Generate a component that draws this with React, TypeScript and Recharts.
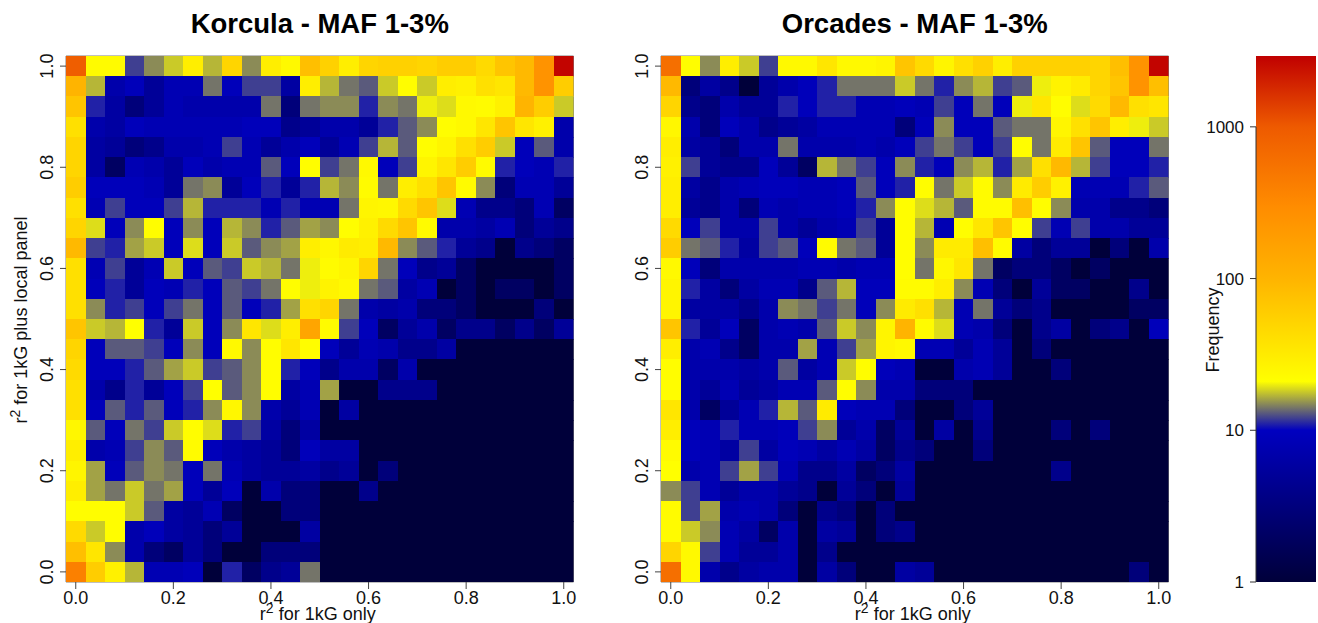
import React from "react";
import { ScatterChart, Scatter, XAxis, YAxis, ReferenceArea, ReferenceLine } from "recharts";

const FONT = "'Liberation Sans', Arial, Helvetica, sans-serif";
const TICKS = [0, 0.2, 0.4, 0.6, 0.8, 1];
const BIN = 0.04;
const FREQ_TICKS = [1, 10, 100, 1000];
const FREQ_MAX = 2930;
const COLOR_STOPS: [number, string][] = [
  [1, "#00003a"],
  [10, "#0000c0"],
  [21, "#ffff00"],
  [100, "#ffb400"],
  [300, "#ff8c00"],
  [1000, "#ee5a00"],
  [2930, "#c00000"],
];

const KORCULA: number[][] = [
  [900, 23, 23, 12, 15, 18, 30, 17, 50, 15, 30, 24, 80, 55, 30, 50, 55, 55, 50, 60, 60, 45, 70, 90, 250, 2800],
  [100, 17, 7, 9, 5, 8, 8, 14, 9, 12, 12, 6, 30, 17, 14, 13, 18, 22, 18, 30, 28, 40, 35, 90, 250, 60],
  [70, 11, 6, 3, 5, 8, 7, 7, 7, 7, 14, 3, 14, 15, 15, 11, 15, 14, 20, 19, 24, 23, 28, 100, 60, 18],
  [40, 7, 6, 9, 8, 8, 8, 8, 8, 9, 9, 4, 5, 7, 7, 5, 11, 13, 15, 22, 24, 35, 70, 35, 28, 7],
  [50, 6, 5, 3, 4, 7, 7, 8, 12, 8, 5, 7, 9, 5, 8, 12, 17, 13, 22, 26, 40, 60, 18, 9, 13, 7],
  [50, 6, 2, 8, 7, 5, 9, 7, 8, 8, 13, 9, 22, 12, 14, 24, 9, 12, 26, 35, 60, 23, 11, 9, 8, 11],
  [60, 9, 9, 9, 8, 5, 14, 15, 5, 9, 11, 5, 11, 17, 15, 23, 14, 30, 40, 70, 23, 15, 3, 8, 8, 5],
  [40, 8, 12, 9, 9, 12, 17, 11, 11, 11, 8, 11, 8, 8, 14, 26, 25, 45, 70, 19, 8, 4, 4, 3, 8, 2],
  [50, 19, 9, 15, 22, 9, 15, 9, 17, 15, 11, 13, 16, 15, 22, 28, 45, 70, 23, 7, 7, 6, 8, 3, 5, 4],
  [90, 12, 11, 16, 18, 9, 19, 9, 18, 13, 15, 16, 30, 25, 32, 30, 90, 15, 13, 11, 5, 4, 1, 4, 3, 2],
  [40, 8, 12, 5, 8, 18, 9, 13, 12, 18, 17, 14, 20, 23, 26, 50, 14, 9, 4, 5, 2, 1, 1, 1, 1, 2],
  [40, 9, 11, 5, 9, 8, 11, 9, 13, 12, 14, 22, 20, 27, 24, 14, 13, 6, 8, 1, 2, 1, 2, 2, 1, 2],
  [40, 15, 11, 12, 9, 12, 14, 9, 13, 9, 11, 16, 40, 50, 14, 7, 6, 7, 3, 3, 2, 1, 1, 1, 3, 1],
  [70, 18, 17, 21, 11, 5, 18, 9, 15, 35, 19, 30, 150, 23, 12, 9, 2, 5, 7, 2, 4, 4, 2, 4, 2, 5],
  [50, 9, 13, 13, 12, 9, 15, 9, 24, 15, 22, 35, 22, 9, 5, 8, 7, 4, 4, 6, 1, 1, 1, 1, 1, 1],
  [45, 9, 9, 11, 13, 16, 18, 12, 13, 15, 22, 11, 9, 4, 7, 7, 2, 7, 1, 1, 1, 1, 1, 1, 1, 1],
  [40, 7, 4, 11, 5, 9, 12, 21, 13, 15, 22, 6, 8, 16, 1, 1, 4, 4, 4, 1, 1, 1, 1, 1, 1, 1],
  [40, 9, 13, 11, 13, 9, 11, 15, 25, 15, 7, 5, 8, 1, 6, 1, 1, 1, 1, 1, 1, 1, 1, 1, 1, 1],
  [25, 13, 9, 14, 12, 18, 22, 19, 11, 12, 6, 3, 6, 1, 1, 1, 1, 1, 1, 1, 1, 1, 1, 1, 1, 1],
  [30, 7, 8, 12, 15, 13, 23, 9, 7, 6, 5, 3, 9, 6, 6, 1, 1, 1, 1, 1, 1, 1, 1, 1, 1, 1],
  [26, 16, 9, 13, 15, 14, 9, 14, 8, 6, 5, 5, 6, 4, 5, 1, 3, 1, 1, 1, 1, 1, 1, 1, 1, 1],
  [30, 16, 14, 18, 14, 16, 9, 5, 9, 1, 7, 3, 3, 1, 1, 4, 1, 1, 1, 1, 1, 1, 1, 1, 1, 1],
  [22, 22, 22, 18, 13, 6, 5, 8, 2, 1, 1, 3, 3, 1, 1, 1, 1, 1, 1, 1, 1, 1, 1, 1, 1, 1],
  [45, 18, 22, 7, 9, 6, 5, 3, 5, 1, 1, 1, 6, 1, 1, 1, 1, 1, 1, 1, 1, 1, 1, 1, 1, 1],
  [80, 35, 15, 7, 3, 2, 5, 3, 1, 1, 3, 3, 3, 1, 1, 1, 1, 1, 1, 1, 1, 1, 1, 1, 1, 1],
  [400, 60, 28, 17, 8, 8, 9, 1, 11, 2, 4, 5, 14, 1, 1, 1, 1, 1, 1, 1, 1, 1, 1, 1, 1, 1],
];

const ORCADES: number[][] = [
  [600, 22, 15, 30, 18, 12, 24, 24, 35, 24, 24, 26, 70, 45, 26, 40, 55, 30, 55, 55, 55, 55, 50, 80, 250, 2800],
  [90, 3, 6, 4, 1, 5, 7, 9, 11, 14, 14, 14, 18, 14, 11, 15, 17, 12, 13, 20, 27, 32, 50, 70, 250, 80],
  [50, 4, 3, 7, 5, 5, 11, 9, 11, 11, 8, 8, 9, 8, 12, 9, 14, 9, 20, 35, 22, 19, 45, 90, 40, 35],
  [25, 7, 3, 9, 7, 4, 5, 6, 8, 8, 8, 8, 3, 9, 15, 9, 9, 13, 14, 14, 26, 40, 70, 30, 20, 18],
  [30, 6, 5, 3, 7, 7, 14, 7, 7, 7, 8, 7, 9, 12, 14, 12, 9, 12, 22, 14, 32, 70, 13, 9, 9, 14],
  [28, 12, 5, 4, 4, 9, 5, 2, 17, 14, 12, 9, 15, 11, 9, 15, 17, 11, 16, 40, 90, 17, 12, 9, 9, 11],
  [30, 6, 4, 7, 8, 9, 9, 8, 8, 9, 13, 9, 11, 22, 14, 18, 23, 15, 32, 60, 28, 8, 8, 8, 11, 13],
  [30, 5, 4, 7, 3, 8, 7, 8, 8, 9, 11, 15, 22, 19, 17, 13, 23, 23, 80, 22, 15, 7, 7, 4, 4, 3],
  [45, 9, 12, 7, 7, 12, 7, 5, 7, 8, 12, 5, 22, 17, 8, 22, 35, 70, 22, 12, 8, 12, 7, 7, 5, 5],
  [60, 14, 13, 11, 6, 12, 13, 9, 23, 14, 13, 5, 22, 15, 32, 32, 80, 23, 6, 3, 5, 5, 1, 3, 1, 7],
  [24, 9, 3, 7, 7, 7, 7, 8, 8, 7, 8, 8, 22, 14, 25, 35, 14, 2, 3, 3, 2, 1, 2, 1, 1, 1],
  [26, 11, 6, 3, 6, 8, 8, 4, 13, 17, 9, 9, 23, 23, 30, 15, 8, 3, 1, 5, 2, 2, 1, 1, 4, 1],
  [26, 6, 6, 6, 4, 7, 15, 14, 12, 14, 9, 15, 32, 40, 17, 8, 14, 5, 3, 4, 1, 1, 1, 1, 2, 2],
  [70, 11, 5, 9, 2, 7, 8, 7, 13, 18, 15, 26, 100, 23, 19, 8, 7, 3, 1, 4, 6, 1, 3, 4, 1, 9],
  [30, 7, 8, 4, 2, 7, 7, 16, 8, 12, 16, 26, 24, 8, 8, 5, 8, 5, 1, 3, 1, 1, 1, 1, 1, 1],
  [22, 7, 7, 7, 6, 7, 13, 6, 8, 18, 22, 9, 8, 1, 1, 7, 8, 5, 1, 1, 3, 1, 1, 1, 1, 1],
  [22, 7, 5, 8, 5, 6, 8, 8, 13, 22, 15, 7, 7, 3, 3, 3, 1, 1, 1, 1, 1, 1, 1, 1, 1, 1],
  [35, 7, 2, 5, 8, 11, 17, 13, 32, 9, 8, 8, 3, 1, 1, 3, 5, 1, 1, 1, 1, 1, 1, 1, 1, 1],
  [30, 9, 8, 11, 8, 8, 9, 12, 15, 5, 7, 2, 5, 1, 6, 1, 4, 1, 1, 1, 3, 1, 3, 1, 1, 1],
  [23, 9, 8, 6, 12, 6, 9, 8, 6, 8, 6, 2, 4, 3, 1, 1, 3, 1, 1, 1, 1, 1, 1, 1, 1, 1],
  [21, 7, 8, 12, 16, 12, 8, 4, 4, 6, 2, 3, 6, 1, 1, 1, 1, 1, 1, 1, 4, 1, 1, 1, 1, 1],
  [15, 12, 8, 5, 7, 7, 5, 4, 1, 5, 3, 1, 5, 1, 1, 1, 1, 1, 1, 1, 1, 1, 1, 1, 1, 1],
  [23, 12, 16, 7, 8, 7, 3, 1, 4, 3, 1, 3, 1, 1, 1, 1, 1, 1, 1, 1, 1, 1, 1, 1, 1, 1],
  [23, 18, 15, 8, 6, 2, 7, 1, 6, 5, 1, 3, 4, 1, 1, 1, 1, 1, 1, 1, 1, 1, 1, 1, 1, 1],
  [50, 24, 12, 8, 5, 5, 7, 1, 4, 1, 1, 1, 1, 1, 1, 1, 1, 1, 1, 1, 1, 1, 1, 1, 1, 1],
  [600, 24, 7, 4, 6, 7, 7, 1, 6, 3, 1, 1, 6, 5, 1, 1, 1, 1, 1, 1, 1, 1, 1, 1, 3, 1],
];

function hexToRgb(h: string) {
  return [1, 3, 5].map((i) => parseInt(h.slice(i, i + 2), 16));
}

function colorFor(v: number) {
  for (let i = 1; i < COLOR_STOPS.length; i++) {
    const [v0, c0] = COLOR_STOPS[i - 1];
    const [v1, c1] = COLOR_STOPS[i];
    if (v <= v1) {
      const t = Math.max(0, (Math.log(v) - Math.log(v0)) / (Math.log(v1) - Math.log(v0)));
      const a = hexToRgb(c0);
      const b = hexToRgb(c1);
      return `rgb(${a.map((x, k) => Math.round(x + (b[k] - x) * t)).join(",")})`;
    }
  }
  return COLOR_STOPS[COLOR_STOPS.length - 1][1];
}

function toCells(rows: number[][]) {
  return rows.flatMap((row, r) =>
    row.map((v, c) => ({ x: +(c * BIN).toFixed(2), y: +(1 - r * BIN).toFixed(2), v, fill: colorFor(v) }))
  );
}

const PLOT_W = 507.5;
const PLOT_H = 526;
const N = 26;

const CellShape = (p: any) => {
  const w = PLOT_W / N;
  const h = PLOT_H / N;
  return (
    <rect
      x={p.cx - w / 2}
      y={p.cy - h / 2}
      width={w + 0.6}
      height={h + 0.6}
      fill={p.payload.fill}
      stroke="none"
      shapeRendering="crispEdges"
    />
  );
};

const RotatedTick = (p: any) => (
  <text
    x={p.x - 7}
    y={p.y}
    transform={`rotate(-90 ${p.x - 7} ${p.y})`}
    textAnchor="middle"
    fontSize={18}
    fontFamily={FONT}
    fill="#111"
  >
    {Number(p.payload.value).toFixed(1)}
  </text>
);

const R2Title = ({ x, y, text, rotate }: any) => (
  <text
    x={x}
    y={y}
    textAnchor="middle"
    fontSize={18}
    fontFamily={FONT}
    fill="#111"
    transform={rotate ? `rotate(-90 ${x} ${y})` : undefined}
  >
    <tspan>r</tspan>
    <tspan dy={-7} fontSize={14}>2</tspan>
    <tspan dy={7}>{" " + text}</tspan>
  </text>
);

function Panel({ rows, title, left, plotLeft, yTitle }: any) {
  const cells = toCells(rows);
  const width = 600;
  const yAxisW = 60;
  const relLeft = plotLeft - left;
  return (
    <div style={{ position: "absolute", left, top: 0 }}>
      <ScatterChart
        width={width}
        height={623}
        margin={{ top: 56, left: relLeft - yAxisW, right: width - relLeft - PLOT_W, bottom: 0 }}
      >
        <XAxis
          type="number"
          dataKey="x"
          domain={[-0.02, 1.02]}
          ticks={TICKS}
          interval={0}
          allowDataOverflow
          height={41}
          axisLine={false}
          tickLine={{ stroke: "#444" }}
          tickSize={7}
          tickMargin={2}
          tick={{ fontSize: 18, fontFamily: FONT, fill: "#111" }}
          tickFormatter={(v: number) => v.toFixed(1)}
        />
        <YAxis
          type="number"
          dataKey="y"
          domain={[-0.02, 1.02]}
          ticks={TICKS}
          interval={0}
          allowDataOverflow
          width={yAxisW}
          axisLine={false}
          tickLine={{ stroke: "#444" }}
          tickSize={6}
          tickMargin={0}
          tick={RotatedTick}
        />
        <Scatter data={cells} isAnimationActive={false} shape={CellShape} />
        <ReferenceArea x1={-0.02} x2={1.02} y1={-0.02} y2={1.02} fill="none" stroke="#808080" strokeWidth={1} />
        <text x={relLeft + PLOT_W / 2} y={33} textAnchor="middle" fontSize={27.5} fontWeight="bold" fontFamily={FONT} fill="#000">
          {title}
        </text>
        <R2Title x={relLeft + PLOT_W / 2 - 2} y={620} text="for 1kG only" />
        {yTitle ? <R2Title x={27} y={320} text={yTitle} rotate /> : null}
      </ScatterChart>
    </div>
  );
}

function ColorBar() {
  const logMax = Math.log(FREQ_MAX);
  const left = 1190;
  const axisW = 66;
  return (
    <div style={{ position: "absolute", left, top: 0 }}>
      <ScatterChart width={128} height={623} margin={{ top: 56, left: 0, right: 2, bottom: 41 }}>
        <defs>
          <linearGradient id="freqGradient" x1="0" y1="1" x2="0" y2="0">
            {COLOR_STOPS.map(([v, c]) => (
              <stop key={v} offset={Math.log(v) / logMax} stopColor={c} />
            ))}
          </linearGradient>
        </defs>
        <XAxis type="number" dataKey="x" domain={[0, 1]} hide height={0} />
        <YAxis
          type="number"
          dataKey="y"
          scale="log"
          domain={[1, FREQ_MAX]}
          allowDataOverflow
          ticks={FREQ_TICKS}
          interval={0}
          width={axisW}
          axisLine={false}
          tickLine={{ stroke: "#333" }}
          tickSize={6}
          tickMargin={6}
          tick={{ fontSize: 17, fontFamily: FONT, fill: "#111" }}
        />
        <Scatter data={[{ x: 0.5, y: 1 }]} isAnimationActive={false} shape={() => null} />
        <ReferenceArea x1={0} x2={1} y1={1} y2={FREQ_MAX} fill="url(#freqGradient)" fillOpacity={1} stroke="none" />
        <ReferenceLine segment={[{ x: 0, y: 1 }, { x: 0, y: 1000 }]} stroke="#333" />
        <text
          x={29}
          y={330}
          textAnchor="middle"
          fontSize={18}
          fontFamily={FONT}
          fill="#111"
          transform="rotate(-90 29 330)"
        >
          Frequency
        </text>
      </ScatterChart>
    </div>
  );
}

export default function App() {
  return (
    <div style={{ position: "absolute", left: 0, top: 0, width: 1318, height: 623, background: "#fff", overflow: "hidden" }}>
      <Panel rows={KORCULA} title="Korcula - MAF 1-3%" left={0} plotLeft={66} yTitle="for 1kG plus local panel" />
      <Panel rows={ORCADES} title="Orcades - MAF 1-3%" left={590} plotLeft={661} />
      <ColorBar />
    </div>
  );
}
